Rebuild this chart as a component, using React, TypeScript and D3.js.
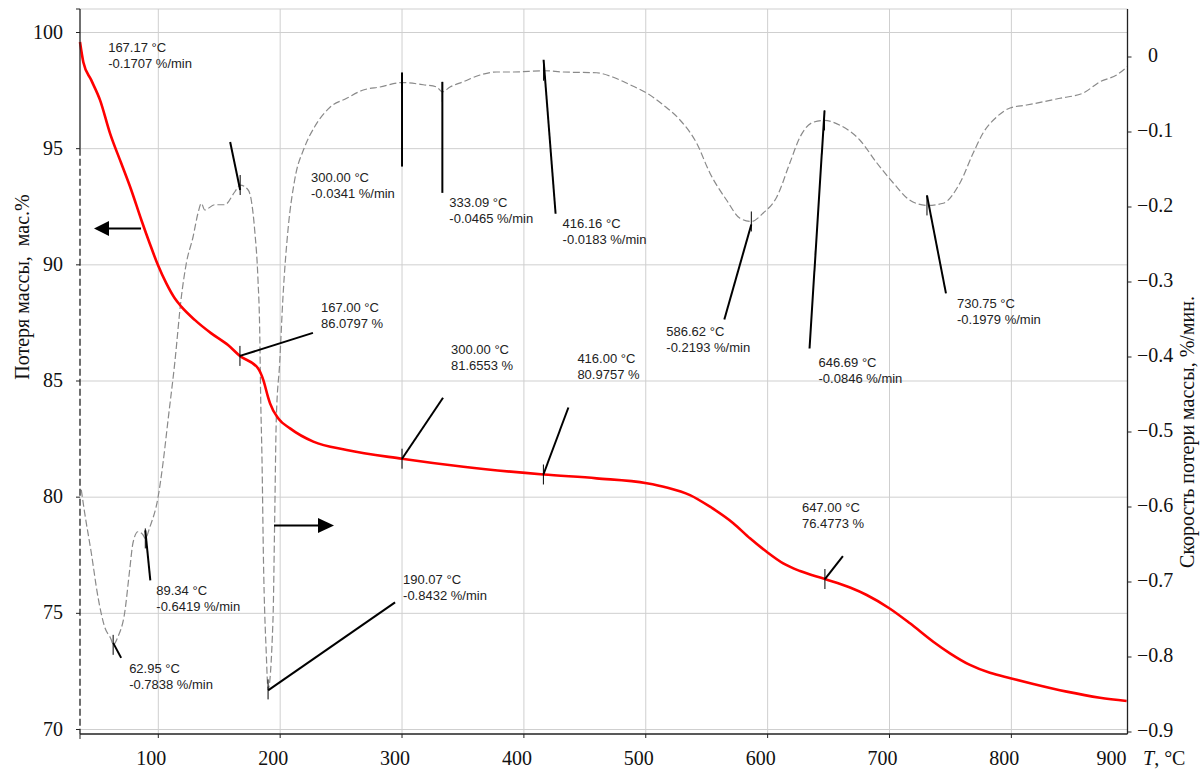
import React from 'react';
import * as d3 from 'd3';

// ---- TG curve: temperature (°C) and remaining mass (%) ----
const tgTemp = [35.75, 38.5, 45.0, 52.2, 60.4, 69.6, 77.8, 86.1, 92.9, 99.7, 106.6, 113.5, 118.9, 129.9, 143.5, 157.2, 167, 181.8, 186.2, 190.0, 191.7, 198.5, 208.1, 227.2, 254.6, 300, 350.3, 416, 459.7, 500.8, 517.1, 536.3, 552.7, 571.8, 585.5, 599.2, 612.8, 626.6, 647, 667.6, 681.3, 699.8, 716.8, 735.9, 749.6, 766.0, 782.4, 800.0, 818.0, 845.4, 872.7, 894.6];
const tgMass = [99.59, 98.72, 97.95, 97.09, 95.66, 94.37, 93.22, 91.93, 90.93, 89.99, 89.20, 88.56, 88.20, 87.63, 87.05, 86.55, 86.0797, 85.55, 85.04, 84.32, 84.04, 83.39, 82.96, 82.39, 82.03, 81.6553, 81.31, 80.9757, 80.81, 80.60, 80.42, 80.09, 79.59, 78.88, 78.23, 77.65, 77.15, 76.82, 76.4773, 76.11, 75.79, 75.22, 74.57, 73.78, 73.28, 72.78, 72.44, 72.20, 71.96, 71.63, 71.37, 71.23];

// ---- DTG curve: temperature (°C) and mass loss rate (%/min) ----
const dtgTemp = [36.8, 39.6, 45.0, 50.5, 56.0, 61.4, 62.95, 66.9, 72.4, 76.5,
  79.2, 83.3, 87.4, 89.34, 93.0, 99.8, 103.9, 108.0, 113.5, 118.9,
  123.0, 128.5, 132.6, 135.3, 138.1, 146.3, 154.5, 162.7, 167.17, 173.6,
  176.3, 179.1, 181.8, 183.2, 184.0, 185.1, 186.3, 188.6, 190.07, 194.1,
  195.5, 196.8, 199.6, 202.3, 206.4, 211.9, 220.1, 228.3, 240.9, 254.6,
  268.2, 281.9, 300, 317.4, 328.4, 333.09, 339.4, 350.3, 364.0, 377.7,
  391.3, 416.16, 432.3, 459.7, 473.4, 487.0, 500.8, 514.4, 528.1, 541.8,
  552.7, 566.4, 577.3, 586.62, 596.4, 607.4, 618.3, 626.5, 637.4, 646.69,
  659.4, 675.8, 689.5, 703.1, 716.8, 730.75, 744.1, 757.8, 768.7, 776.9,
  787.9, 798.9, 812.6, 839.9, 859.0, 872.7, 886.4, 895.1];
const dtgRate = [-0.577, -0.608, -0.661, -0.720, -0.760, -0.777, -0.7838, -0.773, -0.741, -0.684,
  -0.648, -0.633, -0.637, -0.6419, -0.627, -0.587, -0.541, -0.484, -0.408, -0.320,
  -0.275, -0.240, -0.208, -0.195, -0.204, -0.197, -0.197, -0.180, -0.1707, -0.177,
  -0.191, -0.231, -0.297, -0.364, -0.453, -0.537, -0.671, -0.795, -0.8432, -0.751,
  -0.617, -0.484, -0.408, -0.320, -0.231, -0.164, -0.120, -0.093, -0.067, -0.055,
  -0.044, -0.040, -0.0341, -0.037, -0.040, -0.0465, -0.040, -0.033, -0.024, -0.020,
  -0.020, -0.0183, -0.020, -0.021, -0.027, -0.037, -0.048, -0.064, -0.084, -0.115,
  -0.155, -0.191, -0.215, -0.2193, -0.208, -0.187, -0.141, -0.107, -0.087, -0.0846,
  -0.091, -0.111, -0.141, -0.168, -0.191, -0.1979, -0.195, -0.168, -0.128, -0.101,
  -0.080, -0.068, -0.064, -0.055, -0.048, -0.033, -0.024, -0.013];

// ---- marked points ----
const dtgMarkTemp = [62.95, 89.34, 167.17, 190.07, 300.0, 333.09, 416.16, 586.62, 646.69, 730.75];
const dtgMarkRate = [-0.7838, -0.6419, -0.1707, -0.8432, -0.0341, -0.0465, -0.0183, -0.2193, -0.0846, -0.1979];
const tgMarkTemp = [167.0, 300.0, 416.0, 647.0];
const tgMarkMass = [86.0797, 81.6553, 80.9757, 76.4773];

// ---- axis ticks ----
const tempTicks = [100, 200, 300, 400, 500, 600, 700, 800, 900];
const massTicks = [70, 75, 80, 85, 90, 95, 100];
const rateTicks = [0, -0.1, -0.2, -0.3, -0.4, -0.5, -0.6, -0.7, -0.8, -0.9];

// leader line start/end and label position, in px relative to the marked point
const dtgMarkLayout = [
  { from: [0, -2], to: [8, 13], label: [16, 28] },
  { from: [0, -8], to: [5, 42], label: [11, 57] },
  { from: [-10, -43], to: [0, 5], label: [-132, -133] },
  { from: [0, 1], to: [127, -87], label: [135, -105] },
  { from: [0, -10], to: [0, 84], label: [-91, 99] },
  { from: [0, -10], to: [0, 101], label: [7, 115] },
  { from: [0, -11], to: [12, 143], label: [19, 157] },
  { from: [0, 3], to: [-27, 98], label: [-85, 115] },
  { from: [0, -10], to: [-15, 228], label: [-6, 247] },
  { from: [0, -10], to: [19, 88], label: [30, 103] },
];
const tgMarkLayout = [
  { from: [0, 0], to: [73, -23], label: [81, -44] },
  { from: [0, 0], to: [41, -61], label: [49, -105] },
  { from: [0, 0], to: [25, -67], label: [34, -111] },
  { from: [0, 0], to: [18, -23], label: [-23, -67] },
];

const W = 1200;
const H = 771;
const L = 80;
const R = 1127.5;
const T = 9;
const B = 734;

const serif = '"Liberation Serif", "Times New Roman", serif';
const sans = '"Liberation Sans", Arial, sans-serif';
const fmtMinus = (v: number) => (v < 0 ? '\u2212' + Math.abs(v) : String(v));

export default function App() {
  const x = d3.scaleLinear().domain([35.75, 895.3]).range([L, R]);
  const yL = d3.scaleLinear().domain([70, 100]).range([729.5, 32.5]);
  const yR = d3.scaleLinear().domain([-0.9, 0]).range([732, 57]);

  const tgPts: [number, number][] = tgTemp.map((t, i) => [t, tgMass[i]]);
  const dtgPts: [number, number][] = dtgTemp.map((t, i) => [t, dtgRate[i]]);

  const tgLine = d3.line<[number, number]>()
    .x((d) => x(d[0]))
    .y((d) => yL(d[1]))
    .curve(d3.curveMonotoneX);
  const dtgLine = d3.line<[number, number]>()
    .x((d) => x(d[0]))
    .y((d) => yR(d[1]))
    .curve(d3.curveMonotoneX);

  const marks = [
    ...dtgMarkTemp.map((t, i) => ({
      px: x(t), py: yR(dtgMarkRate[i]), lay: dtgMarkLayout[i],
      l1: `${t.toFixed(2)} °C`, l2: `${dtgMarkRate[i].toFixed(4)} %/min`,
    })),
    ...tgMarkTemp.map((t, i) => ({
      px: x(t), py: yL(tgMarkMass[i]), lay: tgMarkLayout[i],
      l1: `${t.toFixed(2)} °C`, l2: `${tgMarkMass[i].toFixed(4)} %`,
    })),
  ];

  const grid = '#cfcfcf';
  const axis = '#222';

  return (
    <svg width={W} height={H} viewBox={`0 0 ${W} ${H}`}
      style={{ position: 'absolute', left: 0, top: 0, background: '#fff' }}>
      <rect x={0} y={0} width={W} height={H} fill="#fff" />

      {/* grid */}
      <line x1={L} x2={R} y1={T} y2={T} stroke={grid} strokeWidth={1} />
      {massTicks.map((v) => (
        <line key={'hg' + v} x1={L} x2={R} y1={yL(v)} y2={yL(v)} stroke={grid} strokeWidth={1} />
      ))}
      {tempTicks.filter((v) => x(v) < R - 2).map((v) => (
        <line key={'vg' + v} x1={x(v)} x2={x(v)} y1={T} y2={B} stroke={grid} strokeWidth={1} />
      ))}

      {/* DTG curve */}
      <path d={dtgLine(dtgPts) || ''} fill="none" stroke="#8a8a8a" strokeWidth={1.2}
        strokeDasharray="7,3" />

      {/* TG curve */}
      <path d={tgLine(tgPts) || ''} fill="none" stroke="#ff0000" strokeWidth={2.6}
        strokeLinejoin="round" />

      {/* left axis */}
      <line x1={L} x2={L} y1={T} y2={yL(95)} stroke={axis} strokeWidth={1.3} />
      <line x1={L} x2={L} y1={yL(95)} y2={B} stroke={axis} strokeWidth={1.3} strokeDasharray="7,3" />
      <line x1={L - 4} x2={L} y1={T} y2={T} stroke={axis} strokeWidth={1} />
      {massTicks.map((v) => (
        <g key={'lt' + v}>
          <line x1={L - 4} x2={L} y1={yL(v)} y2={yL(v)} stroke={axis} strokeWidth={1} />
          <text x={63} y={yL(v) + 6} textAnchor="end" fontFamily={serif} fontSize={20} fill="#111">{v}</text>
        </g>
      ))}

      {/* right axis */}
      <line x1={R} x2={R} y1={T} y2={B} stroke={axis} strokeWidth={1.3} />
      {rateTicks.map((v) => (
        <g key={'rt' + v}>
          <line x1={R} x2={R + 4} y1={yR(v)} y2={yR(v)} stroke={axis} strokeWidth={1} />
          <text x={v < 0 ? 1137 : 1148} y={yR(v) + 5} fontFamily={serif} fontSize={20} fill="#111">{fmtMinus(v)}</text>
        </g>
      ))}

      {/* bottom axis */}
      <line x1={L} x2={R} y1={B} y2={B} stroke={axis} strokeWidth={1.3} />
      <line x1={L} x2={L} y1={B} y2={B + 5} stroke={axis} strokeWidth={1} />
      {tempTicks.map((v) => {
        const inside = x(v) <= R + 0.5;
        const px = inside ? x(v) : R;
        return (
          <g key={'bt' + v}>
            {inside && <line x1={px} x2={px} y1={B} y2={B + 4} stroke={axis} strokeWidth={1} />}
            <text x={inside ? px - 7 : R - 1} y={765} textAnchor={inside ? 'middle' : 'end'}
              fontFamily={serif} fontSize={20} fill="#111">{v}</text>
          </g>
        );
      })}

      {/* axis titles */}
      <text transform={`translate(28.5,287) rotate(-90)`} textAnchor="middle" fontFamily={serif}
        fontSize={20} fill="#111" style={{ whiteSpace: 'pre' }}>Потеря массы,  мас.%</text>
      <text transform={`translate(1194,432) rotate(-90)`} textAnchor="middle" fontFamily={serif}
        fontSize={20} fill="#111">Скорость потери массы, %/мин.</text>
      <text x={1143} y={765} fontFamily={serif} fontSize={20} fill="#111">
        <tspan fontStyle="italic">T</tspan>, °C
      </text>

      {/* marked points */}
      {marks.map((m, i) => (
        <g key={'mk' + i}>
          <line x1={m.px} x2={m.px} y1={m.py - 10} y2={m.py + 10} stroke="#000" strokeWidth={1} />
          <line x1={m.px + m.lay.from[0]} y1={m.py + m.lay.from[1]}
            x2={m.px + m.lay.to[0]} y2={m.py + m.lay.to[1]} stroke="#000" strokeWidth={2} />
          <text x={m.px + m.lay.label[0]} y={m.py + m.lay.label[1]} fontFamily={sans}
            fontSize={13} fill="#222">
            <tspan x={m.px + m.lay.label[0]}>{m.l1}</tspan>
            <tspan x={m.px + m.lay.label[0]} dy={16}>{m.l2}</tspan>
          </text>
        </g>
      ))}

      {/* curve-to-axis arrows */}
      <line x1={141} x2={106} y1={228.5} y2={228.5} stroke="#000" strokeWidth={2} />
      <path d="M94,228.5 L109,221 L109,236 Z" fill="#000" />
      <line x1={274} x2={320} y1={525.5} y2={525.5} stroke="#000" strokeWidth={2} />
      <path d="M334,525.5 L318,518 L318,533 Z" fill="#000" />
    </svg>
  );
}
